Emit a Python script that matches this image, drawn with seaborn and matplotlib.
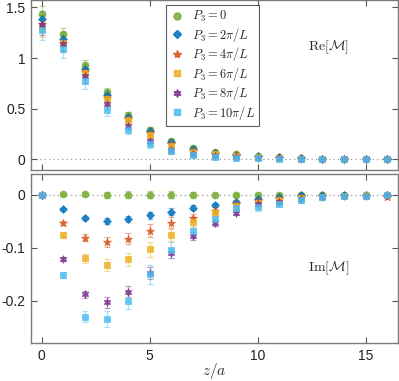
import numpy as np
import matplotlib
matplotlib.use("Agg")
import matplotlib.pyplot as plt
import seaborn as sns
from matplotlib.lines import Line2D

# -----------------------------
# Data
# -----------------------------
z = list(range(17))

labels = [r"$P_3 = 0$", r"$P_3 = 2\pi/L$", r"$P_3 = 4\pi/L$",
          r"$P_3 = 6\pi/L$", r"$P_3 = 8\pi/L$", r"$P_3 = 10\pi/L$"]
colors = ["#77AC30", "#0072BD", "#D95319", "#EDB120", "#7E2F8E", "#4DBEEE"]
markers = ["o", "D", "*", "s", (6, 1, 0), "s"]
msizes = [5, 4, 6, 4, 5.5, 4.5]

# Re[M]
re_p0 = [1.44, 1.24, 0.93, 0.66, 0.44, 0.29, 0.18, 0.115, 0.075, 0.05, 0.03, 0.02, 0.012, 0.007, 0.005, 0.003, 0.002]
re_p2 = [1.39, 1.19, 0.89, 0.64, 0.42, 0.28, 0.17, 0.10, 0.065, 0.045, 0.028, 0.018, 0.010, 0.006, 0.004, 0.002, 0.001]
re_p4 = [1.34, 1.15, 0.86, 0.61, 0.40, 0.26, 0.15, 0.085, 0.055, 0.04, 0.025, 0.015, 0.008, 0.005, 0.003, 0.002, 0.001]
re_p6 = [1.30, 1.15, 0.85, 0.60, 0.39, 0.24, 0.13, 0.07, 0.05, 0.03, 0.02, 0.012, 0.007, 0.004, 0.002, 0.001, 0.001]
re_p8 = [1.33, 1.14, 0.82, 0.55, 0.33, 0.18, 0.09, 0.05, 0.03, 0.02, 0.012, 0.008, 0.005, 0.003, 0.002, 0.001, 0.0]
re_p10 = [1.28, 1.09, 0.77, 0.49, 0.29, 0.15, 0.08, 0.04, 0.02, 0.01, 0.008, 0.005, 0.003, 0.002, 0.001, 0.0, 0.0]
re_err = [0.07, 0.06, 0.05, 0.04, 0.03, 0.025, 0.02, 0.015, 0.012, 0.01, 0.008, 0.006, 0.005, 0.004, 0.004, 0.003, 0.003]

# Im[M]
im_p0 = [0.0, 0.001, 0.001, -0.001, 0.0, 0.0, 0.0, 0.0, 0.0, 0.0, 0.0, 0.0, 0.0, 0.0, 0.0, 0.0, 0.0]
im_p2 = [0.0, -0.028, -0.044, -0.050, -0.046, -0.039, -0.032, -0.025, -0.020, -0.014, -0.009, -0.004, -0.001, -0.001, 0.0, 0.0, 0.0]
im_p4 = [0.0, -0.053, -0.081, -0.089, -0.083, -0.068, -0.053, -0.044, -0.030, -0.017, -0.012, -0.009, -0.004, -0.003, -0.002, -0.002, -0.004]
im_p6 = [0.0, -0.076, -0.120, -0.133, -0.122, -0.103, -0.076, -0.051, -0.035, -0.022, -0.015, -0.010, -0.006, -0.004, -0.002, -0.001, -0.001]
im_p8 = [0.0, -0.121, -0.188, -0.203, -0.183, -0.148, -0.110, -0.078, -0.053, -0.034, -0.018, -0.014, -0.008, -0.005, -0.003, -0.002, -0.001]
im_p10 = [0.0, -0.152, -0.230, -0.234, -0.200, -0.150, -0.105, -0.069, -0.046, -0.026, -0.024, -0.017, -0.011, -0.005, -0.003, -0.002, -0.001]
im_err = [0.002, 0.004, 0.007, 0.010, 0.010, 0.012, 0.010, 0.008, 0.006, 0.005, 0.004, 0.003, 0.003, 0.002, 0.002, 0.002, 0.002]
im_err_scale = [0.6, 0.6, 1.0, 1.2, 1.0, 1.5]

re_series = [re_p0, re_p2, re_p4, re_p6, re_p8, re_p10]
im_series = [im_p0, im_p2, im_p4, im_p6, im_p8, im_p10]

# -----------------------------
# Style
# -----------------------------
sns.set_theme(style="ticks")
plt.rcParams["font.family"] = ["Liberation Sans", "DejaVu Sans"]
plt.rcParams["mathtext.fontset"] = "cm"
plt.rcParams["axes.edgecolor"] = "#7a7a7a"
plt.rcParams["axes.linewidth"] = 1.0

fig = plt.figure(figsize=(3.99, 3.81), dpi=100)
ax_re = fig.add_axes([31 / 399, 1 - 170 / 381, 367 / 399, 170 / 381])
ax_im = fig.add_axes([31 / 399, 1 - 343 / 381, 367 / 399, 169 / 381])

for ax in (ax_re, ax_im):
    ax.axhline(0, color="#999999", ls=(0, (1, 2.5)), lw=0.9, zorder=0)

# -----------------------------
# Draw series
# -----------------------------
for i in range(6):
    err_re = [e * (1 + 0.1 * i) for e in re_err]
    ax_re.errorbar(z, re_series[i], yerr=err_re, fmt="none", ecolor=colors[i],
                   alpha=0.45, capsize=2, elinewidth=0.9, capthick=0.9)
    sns.scatterplot(x=z, y=re_series[i], ax=ax_re, color=colors[i], marker=markers[i],
                    s=msizes[i] ** 2, edgecolor=colors[i], linewidth=0.5, alpha=0.85,
                    legend=False, zorder=3)

    err_im = [e * im_err_scale[i] for e in im_err]
    ax_im.errorbar(z, im_series[i], yerr=err_im, fmt="none", ecolor=colors[i],
                   alpha=0.45, capsize=2, elinewidth=0.9, capthick=0.9)
    sns.scatterplot(x=z, y=im_series[i], ax=ax_im, color=colors[i], marker=markers[i],
                    s=msizes[i] ** 2, edgecolor=colors[i], linewidth=0.5, alpha=0.85,
                    legend=False, zorder=3)

handles = [Line2D([], [], color=colors[i], marker=markers[i], ls="none",
                  markersize=msizes[i], alpha=0.85) for i in range(6)]
leg = ax_re.legend(handles, labels, loc="upper left", bbox_to_anchor=(0.368, 0.968),
                   fontsize=9, frameon=True, fancybox=False, handletextpad=0.6,
                   borderpad=0.3, labelspacing=0.12, handlelength=1.2,
                   borderaxespad=0)
leg.get_frame().set_edgecolor("#333333")
leg.get_frame().set_linewidth(0.8)

ax_re.text(0.81, 0.72, r"$\mathrm{Re}[\mathcal{M}]$", transform=ax_re.transAxes,
           fontsize=10, ha="center", va="center")
ax_im.text(0.81, 0.44, r"$\mathrm{Im}[\mathcal{M}]$", transform=ax_im.transAxes,
           fontsize=10, ha="center", va="center")

# -----------------------------
# Axes
# -----------------------------
ax_re.set_xlim(-0.5, 16.5)
ax_im.set_xlim(-0.5, 16.5)
ax_re.set_ylim(-0.106, 1.574)
ax_im.set_ylim(-0.28, 0.039)

ax_re.set_yticks([0, 0.5, 1, 1.5])
ax_re.set_yticklabels(["0", "0.5", "1", "1.5"])
ax_im.set_yticks([-0.2, -0.1, 0])
ax_im.set_yticklabels(["-0.2", "-0.1", "0"])
for ax in (ax_re, ax_im):
    ax.set_xticks([0, 5, 10, 15])
    ax.tick_params(direction="in", length=4, width=0.8, color="#555555",
                   top=True, right=True, labelsize=10, pad=4, labelcolor="#222222")
    for sp in ax.spines.values():
        sp.set_visible(True)
ax_re.tick_params(labelbottom=False)
ax_im.set_xticklabels(["0", "5", "10", "15"])
ax_im.set_xlabel(r"$z/a$", fontsize=11, labelpad=-1)

fig.savefig("out.png", dpi=100)
